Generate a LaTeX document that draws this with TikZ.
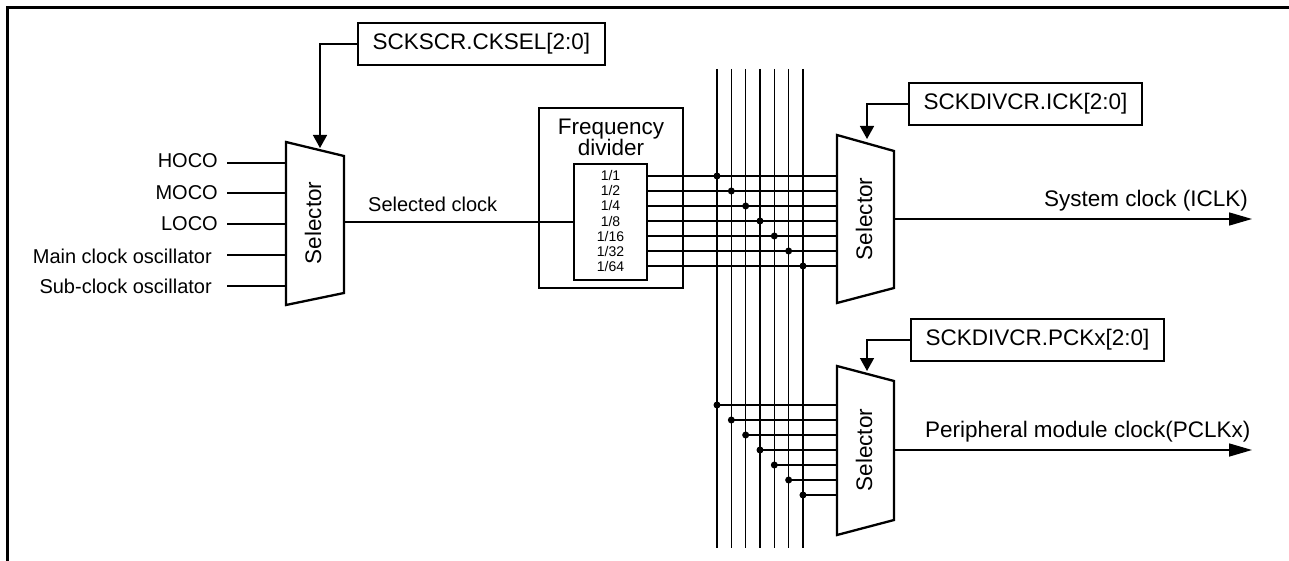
\documentclass[tikz,border=0pt]{standalone}
\usepackage{fontspec}
\setmainfont{Liberation Sans}
\usetikzlibrary{arrows.meta}
\begin{document}
\begin{tikzpicture}[x=1pt,y=-1pt,
  thinline/.style={line width=1.5pt},
  shapeline/.style={line width=2.3pt, line join=miter},
  regbox/.style={draw, line width=2.1pt, inner xsep=14.5pt, inner ysep=0pt, minimum height=42pt, font=\fontsize{22.5}{27}\selectfont},
  lbl/.style={font=\fontsize{20}{24}\selectfont, inner sep=0pt},
  biglbl/.style={font=\fontsize{22.5}{27}\selectfont, inner sep=0pt},
  fraclbl/.style={font=\fontsize{14}{16}\selectfont, inner sep=0pt},
  ctlarrow/.style={thinline, -{Triangle[length=13pt,width=14pt]}},
  outarrow/.style={thinline, -{Triangle[length=23pt,width=13pt]}},
  junction/.style={circle, fill, inner sep=0pt, minimum size=7pt},
]
\useasboundingbox (0,0) rectangle (1289,561);
% frame
\draw[line width=3pt] (7.5,561) -- (7.5,8) -- (1289,8);

% ---------- left selector ----------
\draw[shapeline] (286,142) -- (344,156) -- (344,293) -- (286,305) -- cycle;
\node[biglbl, rotate=90] (sa) at (313,223) {Selector};
\foreach \y/\b/\xe/\t [count=\i] in {163/168/218/HOCO, 193/200/218/MOCO, 224/231/218/LOCO, 255/263/212/Main clock oscillator, 286/293/212/Sub-clock oscillator} {
  \node[lbl, anchor=base east] (in\i) at (\xe,\b) {\t};
  \coordinate (in\i-s) at (227,\y);
  \coordinate (sa-in\i) at (286,\y);
  \draw[thinline] (in\i-s) -- (sa-in\i);
}
\coordinate (sa-out) at (344,222);
\coordinate (sa-ctl) at (320,148);

% control register for left selector
\node[regbox, anchor=west] (cksel) at (357,44) {SCKSCR.CKSEL[2:0]};
\draw[ctlarrow] (cksel.west) -| (sa-ctl);

% ---------- frequency divider ----------
\node[draw, line width=2.1pt, minimum width=144pt, minimum height=180pt, inner sep=0pt] (fd) at (611,198) {};
\node[biglbl, anchor=base] (fdt1) at (611,135) {Frequency};
\node[biglbl, anchor=base] (fdt2) at (611,156) {divider};
\node[draw, line width=2.1pt, minimum width=73pt, minimum height=116pt, inner sep=0pt] (fdi) at (610.5,222) {};
\coordinate (fd-in) at (574,222);
\draw[thinline] (sa-out) -- (fd-in);
\node[lbl, anchor=base west] (selclk) at (368,212) {Selected clock};

% ---------- selectors on the right ----------
\draw[shapeline] (837,135) -- (894,151) -- (894,288) -- (837,303) -- cycle;
\node[biglbl, rotate=90] (sb) at (864,219) {Selector};
\draw[shapeline] (837,366) -- (894,381) -- (894,520) -- (837,535) -- cycle;
\node[biglbl, rotate=90] (sc) at (864,450) {Selector};

% ---------- bus ----------
\foreach \f [count=\i from 0] in {1/1,1/2,1/4,1/8,1/16,1/32,1/64} {
  \pgfmathsetmacro\bx{717+14.33*\i}
  \pgfmathsetmacro\uy{176+15*\i}
  \pgfmathsetmacro\ly{405+15*\i}
  \pgfmathsetmacro\fb{\uy+5}
  \node[fraclbl, anchor=base] (fr\i) at (610.5,\fb) {\f};
  \coordinate (bus\i-t) at (\bx,69);
  \coordinate (bus\i-b) at (\bx,548);
  \draw[thinline] (bus\i-t) -- (bus\i-b);
  \coordinate (fd-o\i) at (647,\uy);
  \coordinate (sb-in\i) at (837,\uy);
  \draw[thinline] (fd-o\i) -- (sb-in\i);
  \node[junction] (ju\i) at (\bx,\uy) {};
  \node[junction] (jl\i) at (\bx,\ly) {};
  \coordinate (sc-in\i) at (837,\ly);
  \draw[thinline] (jl\i.center) -- (sc-in\i);
}

% ---------- outputs ----------
\coordinate (sb-out) at (894,219);
\coordinate (iclk) at (1252,219);
\draw[outarrow] (sb-out) -- (iclk);
\node[biglbl, anchor=base west] (iclkl) at (1044,207) {System clock (ICLK)};

\coordinate (sc-out) at (894,450);
\coordinate (pclk) at (1252,450);
\draw[outarrow] (sc-out) -- (pclk);
\node[biglbl, anchor=base west] (pclkl) at (925,437) {Peripheral module clock(PCLKx)};

% ---------- control registers ----------
\node[regbox, anchor=west] (ick) at (908,104) {SCKDIVCR.ICK[2:0]};
\coordinate (sb-ctl) at (867,139);
\draw[ctlarrow] (ick.west) -| (sb-ctl);

\node[regbox, anchor=west] (pck) at (910,340) {SCKDIVCR.PCKx[2:0]};
\coordinate (sc-ctl) at (867,371);
\draw[ctlarrow] (pck.west) -| (sc-ctl);
\end{tikzpicture}
\end{document}
